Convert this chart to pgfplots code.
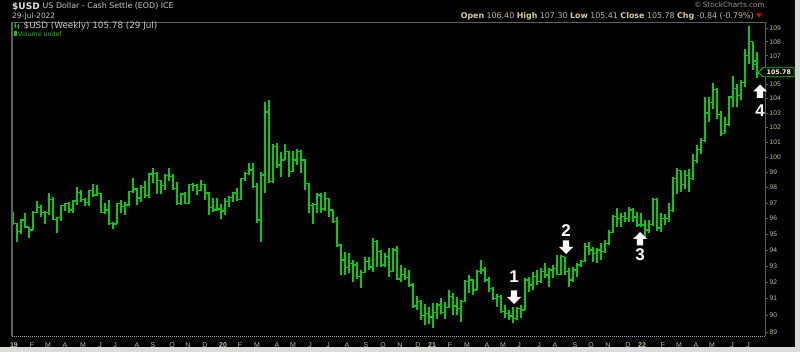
\documentclass[border=0pt]{standalone}
\usepackage{pgfplots}
\pgfplotsset{compat=1.18}
\usepackage{pgfplotstable}
\usepackage{fontspec}
\setmainfont{DejaVu Sans}
\newfontfamily\lib{Liberation Sans}
\definecolor{barcol}{RGB}{10,200,10}
\definecolor{tanc}{RGB}{198,190,142}
\definecolor{hdr}{RGB}{214,206,160}
\definecolor{hdrn}{RGB}{192,188,162}
\definecolor{frm}{RGB}{95,95,95}
\definecolor{ttl}{RGB}{200,200,200}

\pgfplotstableread{
x o h l c
0 96.00 96.40 95.60 95.70
1 95.70 95.70 94.52 95.16
2 95.16 95.95 95.00 95.90
3 95.90 96.34 95.37 95.45
4 95.45 95.48 94.78 95.27
5 95.27 96.45 95.27 96.40
6 96.40 97.15 96.35 96.72
7 96.72 96.87 96.12 96.38
8 96.38 96.45 95.65 96.40
9 96.40 97.62 96.23 97.24
10 97.24 97.41 95.91 95.95
11 95.95 96.12 95.10 96.08
12 96.08 96.87 95.87 96.83
13 96.83 97.02 96.45 96.98
14 96.98 97.05 96.34 96.55
15 96.55 97.19 96.38 97.13
16 97.13 98.05 96.87 97.67
17 97.67 97.84 97.04 97.24
18 97.24 97.30 96.77 97.04
19 97.04 97.84 96.77 97.79
20 97.79 98.22 97.41 97.52
21 97.52 98.16 97.47 97.62
22 97.62 97.67 96.34 96.40
23 96.40 96.98 96.30 96.55
24 96.55 97.19 95.59 95.70
25 95.70 95.80 95.31 95.65
26 95.65 96.98 95.65 96.94
27 96.94 97.19 96.34 96.77
28 96.77 97.09 96.23 96.87
29 96.87 97.79 96.80 97.73
30 97.73 98.62 97.64 97.90
31 97.90 97.96 96.87 97.31
32 97.31 98.14 97.09 97.98
33 97.98 98.44 97.35 97.48
34 97.48 98.94 97.35 98.88
35 98.88 99.27 98.29 98.94
36 98.94 99.00 97.57 98.44
37 98.44 98.50 97.57 98.14
38 98.14 98.90 97.85 98.77
39 98.77 99.27 98.40 98.72
40 98.72 98.90 97.85 97.96
41 97.96 98.35 96.87 96.98
42 96.98 97.64 96.87 97.57
43 97.57 97.74 96.92 96.98
44 96.98 98.22 96.92 98.18
45 98.18 98.29 97.79 98.14
46 98.14 98.20 97.53 97.79
47 97.79 98.51 97.75 98.18
48 98.18 98.22 97.20 97.64
49 97.64 97.74 96.22 96.70
50 96.70 97.31 96.44 96.55
51 96.55 97.35 96.48 96.60
52 96.60 96.90 95.96 96.48
53 96.48 97.31 96.22 97.09
54 97.09 97.42 96.76 97.35
55 97.35 97.70 97.09 97.64
56 97.64 97.96 97.13 97.20
57 97.20 98.62 97.20 98.57
58 98.57 99.05 98.44 98.90
59 98.90 99.60 98.85 99.16
60 99.16 99.60 97.96 98.07
61 98.07 98.30 95.70 95.90
62 95.90 99.04 94.52 98.83
63 98.83 103.76 97.63 103.07
64 103.07 103.92 98.30 98.39
65 98.39 100.92 98.28 100.70
66 100.70 100.97 99.26 99.48
67 99.48 100.37 98.72 99.81
68 99.81 100.92 99.81 100.37
69 100.37 100.45 98.72 99.04
70 99.04 100.43 99.04 99.81
71 99.81 100.52 99.48 100.37
72 100.37 100.48 98.94 99.81
73 99.81 99.90 97.85 98.28
74 98.28 98.33 96.37 96.85
75 96.85 96.98 95.64 96.90
76 96.90 97.63 96.33 97.52
77 97.52 97.63 96.33 96.60
78 96.60 97.74 96.50 97.30
79 97.30 97.30 96.12 96.55
80 96.55 96.55 95.69 95.79
81 95.79 96.12 94.21 94.31
82 94.31 94.40 92.45 93.38
83 93.38 93.90 92.45 92.90
84 92.90 93.79 92.55 93.17
85 93.17 93.38 92.04 93.07
86 93.07 93.27 92.20 92.35
87 92.35 92.76 91.63 92.60
88 92.60 93.59 92.60 93.27
89 93.27 93.59 92.76 92.95
90 92.95 94.73 92.66 94.52
91 94.52 94.62 92.97 93.90
92 93.90 94.00 92.97 93.07
93 93.07 93.79 92.97 93.60
94 93.60 94.10 92.35 92.66
95 92.66 94.10 92.66 94.00
96 94.00 94.25 92.14 92.20
97 92.20 93.07 92.04 92.50
98 92.50 92.86 92.14 92.30
99 92.30 92.76 91.73 91.83
100 91.83 91.93 90.41 90.55
101 90.55 91.16 90.31 90.82
102 90.82 90.92 89.70 90.00
103 90.00 90.70 89.40 90.10
104 90.10 90.50 89.50 89.90
105 89.90 90.72 89.22 90.15
106 90.15 90.72 89.80 90.62
107 90.62 91.02 90.05 90.15
108 90.15 90.82 89.80 90.45
109 90.45 91.53 90.45 91.12
110 91.12 91.33 90.00 90.55
111 90.55 91.12 90.00 90.40
112 90.40 90.92 89.60 90.82
113 90.82 92.14 90.82 92.04
114 92.04 92.45 91.33 92.14
115 92.14 92.20 91.22 91.53
116 91.53 92.76 91.53 92.66
117 92.66 93.38 92.50 92.76
118 92.76 92.97 92.04 92.14
119 92.14 92.35 91.43 91.63
120 91.63 91.73 90.92 91.00
121 91.00 91.30 90.52 91.12
122 91.12 91.20 90.11 90.21
123 90.21 90.62 89.81 90.11
124 90.11 90.31 89.71 89.95
125 89.95 90.52 89.51 89.81
126 89.81 90.52 89.71 90.41
127 90.41 90.62 89.81 90.31
128 90.31 92.24 90.31 92.14
129 92.14 92.35 91.43 91.83
130 91.83 92.66 91.53 92.35
131 92.35 92.76 91.83 92.04
132 92.04 92.86 91.94 92.66
133 92.66 93.17 92.24 92.45
134 92.45 92.86 91.73 92.76
135 92.76 93.07 92.24 92.86
136 92.86 93.69 92.45 92.50
137 92.50 93.69 92.45 93.59
138 93.59 93.59 92.45 92.66
139 92.66 92.86 91.73 92.14
140 92.14 92.97 92.04 92.76
141 92.76 93.17 92.35 93.07
142 93.07 93.38 92.97 93.27
143 93.27 94.42 93.27 94.21
144 94.21 94.52 93.69 94.00
145 94.00 94.21 93.27 93.79
146 93.79 94.10 93.17 94.00
147 94.00 94.42 93.38 93.90
148 93.90 94.63 93.79 94.42
149 94.42 95.26 94.30 95.10
150 95.10 96.22 95.05 96.11
151 96.11 96.65 95.47 96.00
152 96.00 96.33 95.47 96.11
153 96.11 96.43 95.79 96.00
154 96.00 96.76 95.79 96.54
155 96.54 96.65 95.79 96.10
156 96.10 96.43 95.47 95.58
157 95.58 96.33 95.47 95.58
158 95.58 95.90 94.84 95.26
159 95.26 95.90 95.10 95.60
160 95.60 97.30 95.50 97.20
161 97.20 97.30 95.20 95.40
162 95.40 96.33 95.16 96.00
163 96.00 96.30 95.60 96.00
164 96.00 97.00 95.80 96.50
165 96.50 98.70 96.40 98.60
166 98.60 99.30 97.60 99.10
167 99.10 99.10 97.70 98.20
168 98.20 99.15 97.90 98.80
169 98.80 99.20 97.70 98.60
170 98.60 100.20 98.50 99.80
171 99.80 100.80 99.60 100.50
172 100.50 101.30 100.20 101.10
173 101.10 104.10 101.00 103.00
174 103.00 104.10 102.40 103.70
175 103.70 105.05 103.30 104.60
176 104.60 104.70 102.60 102.90
177 102.90 103.10 101.40 101.60
178 101.60 102.70 101.60 102.20
179 102.20 104.20 102.10 104.10
180 104.10 105.60 103.40 104.70
181 104.70 105.00 103.40 104.20
182 104.20 105.30 103.90 105.10
183 105.10 107.50 104.80 107.00
184 107.00 109.14 106.40 108.00
185 108.00 108.00 106.00 106.62
186 106.40 107.30 105.41 105.78
}\data

\begin{document}
\begin{tikzpicture}
\path[use as bounding box] (0,0) rectangle (800pt,-352pt);
\fill[white!86!black] (0,0) rectangle (800pt,-352pt);
\fill[black] (0,0) rectangle (795pt,-347pt);
\begin{axis}[
  at={(12pt,-22pt)}, anchor=north west,
  scale only axis, width=753pt, height=314pt,
  xmin=-0.25, xmax=188,
  ymin=4.485969, ymax=4.695303,
  axis line style={draw=none},
  xtick={0.25,4.75,8.75,13.0,17.5,21.75,25.5,31.0,35.0,39.75,43.75,48.0,52.5,56.75,61.0,66.0,70.0,74.25,78.75,83.5,88.25,92.5,96.75,101.25,104.75,109.25,113.5,118.5,122.5,126.5,131.5,135.5,140.5,144.5,148.75,153.75,157.25,162.5,166.5,170.75,174.75,179.75,183.75},
  xticklabels={\textbf{19},F,M,A,M,J,J,A,S,O,N,D,\textbf{20},F,M,A,M,J,J,A,S,O,N,D,\textbf{21},F,M,A,M,J,J,A,S,O,N,D,\textbf{22},F,M,A,M,J,J},
  xtick style={draw=none},
  xticklabel style={font=\lib\fontsize{7}{8}\selectfont, text=tanc, anchor=center, inner sep=0pt, yshift=-6pt},
  ytick={4.48863637,4.49980967,4.51085951,4.52178858,4.53259949,4.54329478,4.55387689,4.56434819,4.57471098,4.58496748,4.59511985,4.60517019,4.61512052,4.62497281,4.63472899,4.64439090,4.65396035,4.67282883,4.68213123,4.69134788},
  yticklabels={89,90,91,92,93,94,95,96,97,98,99,100,101,102,103,104,105,107,108,109},
  ytick pos=right, yticklabel pos=right,
  tick align=outside, major tick length=3pt,
  ytick style={frm, line width=0.6pt},
  yticklabel style={font=\lib\fontsize{6.7}{7}\selectfont, text=tanc, anchor=west, inner sep=0pt, xshift=1.5pt},
]
\addplot[draw=none, mark=none, forget plot,
  error bars/.cd, y dir=minus, y explicit, error mark=none,
  error bar style={draw=barcol, line width=2pt}]
  table[x=x, y expr={ln(\thisrow{h})}, y error expr={ln(\thisrow{h})-ln(\thisrow{l})}] {\data};
\addplot[draw=none, mark=none, forget plot,
  error bars/.cd, x dir=minus, x fixed=0.75, error mark=none,
  error bar style={draw=barcol, line width=1.3pt}]
  table[x=x, y expr={ln(\thisrow{o})}] {\data};
\addplot[draw=none, mark=none, forget plot,
  error bars/.cd, x dir=plus, x fixed=0.75, error mark=none,
  error bar style={draw=barcol, line width=1.3pt}]
  table[x=x, y expr={ln(\thisrow{c})}] {\data};
\end{axis}
\begin{scope}[x=1pt,y=-1pt]
  % frame
  \draw[frm, line width=1.6pt] (12,22) -- (12,336);
  \draw[frm, line width=0.8pt] (12,22) -- (765,22) -- (765,336);
  \draw[white!65!black, line width=0.7pt, dash pattern=on 1pt off 1pt] (12,336) -- (765,336);
  % titles
  \node[anchor=base west, inner sep=0pt, text=white!88!black, font=\bfseries\fontsize{9}{10}\selectfont] at (12,9.5) {\$USD};
  \node[anchor=base west, inner sep=0pt, text=ttl, font=\fontsize{7.9}{9}\selectfont] at (42.5,9) {US Dollar - Cash Settle (EOD) ICE};
  \node[anchor=base west, inner sep=0pt, text=ttl, font=\fontsize{7.4}{8}\selectfont] at (12,19) {29-Jul-2022};
  \node[anchor=base east, inner sep=0pt, text=white!60!black, font=\fontsize{7.3}{8}\selectfont] at (765,7.8) {\textcopyright\,StockCharts.com};
  \node[anchor=base east, inner sep=0pt, font=\fontsize{7.9}{9}\selectfont] at (754,18.3)
    {\textcolor{hdr}{\bfseries Open} \textcolor{hdrn}{106.40} \textcolor{hdr}{\bfseries High} \textcolor{hdrn}{107.30} \textcolor{hdr}{\bfseries Low} \textcolor{hdrn}{105.41} \textcolor{hdr}{\bfseries Close} \textcolor{hdrn}{105.78} \textcolor{hdr}{\bfseries Chg} \textcolor{hdrn}{-0.84 (-0.79\%)}};
  \fill[red!90!black] (756,13.5) -- (762,13.5) -- (759,17.5) -- cycle;
  % legend line
  \draw[barcol, line width=0.8pt] (15,23.5) -- (15,28.5) (18,24.5) -- (18,29);
  \draw[barcol, line width=0.6pt] (14,25) -- (15,25) (15,27.5) -- (16,27.5) (17,26) -- (18,26) (18,28) -- (19,28);
  \node[anchor=base west, inner sep=0pt, text=ttl, font=\fontsize{8.8}{10}\selectfont] at (23.5,28.8) {\$USD (Weekly) 105.78 (29 Jul)};
  \fill[barcol] (14,31.5) rectangle (16.5,36);
  \node[anchor=base west, inner sep=0pt, text=barcol, font=\fontsize{6.3}{7}\selectfont] at (18,36.5) {Volume undef};
  % last value tag
  \filldraw[fill=black, draw=barcol, line width=0.9pt] (758.5,72.3) -- (763,67.8) -- (794,67.8) -- (794,76.8) -- (763,76.8) -- cycle;
  \node[anchor=center, inner sep=0pt, text=white!85!yellow, font=\bfseries\fontsize{6.3}{7}\selectfont] at (778.8,72.5) {105.78};
  % arrows
  \def\darrow#1#2{\fill[white] (#1-3.2,#2) -- (#1+3.2,#2) -- (#1+3.2,#2+6.5) -- (#1+7,#2+6.5) -- (#1,#2+13.5) -- (#1-7,#2+6.5) -- (#1-3.2,#2+6.5) -- cycle;}
  \def\uarrow#1#2{\fill[white] (#1-3.2,#2) -- (#1+3.2,#2) -- (#1+3.2,#2-6.5) -- (#1+7,#2-6.5) -- (#1,#2-13.5) -- (#1-7,#2-6.5) -- (#1-3.2,#2-6.5) -- cycle;}
  \darrow{514}{290.5}
  \darrow{566}{240.5}
  \uarrow{640}{245.5}
  \uarrow{760}{98}
  \node[text=white, font=\lib\bfseries\fontsize{17}{18}\selectfont, inner sep=0pt] at (514,277) {1};
  \node[text=white, font=\lib\bfseries\fontsize{17}{18}\selectfont, inner sep=0pt] at (566,231) {2};
  \node[text=white, font=\lib\bfseries\fontsize{17}{18}\selectfont, inner sep=0pt] at (640,255) {3};
  \node[text=white, font=\lib\bfseries\fontsize{17}{18}\selectfont, inner sep=0pt] at (760,111) {4};
\end{scope}
\end{tikzpicture}
\end{document}
